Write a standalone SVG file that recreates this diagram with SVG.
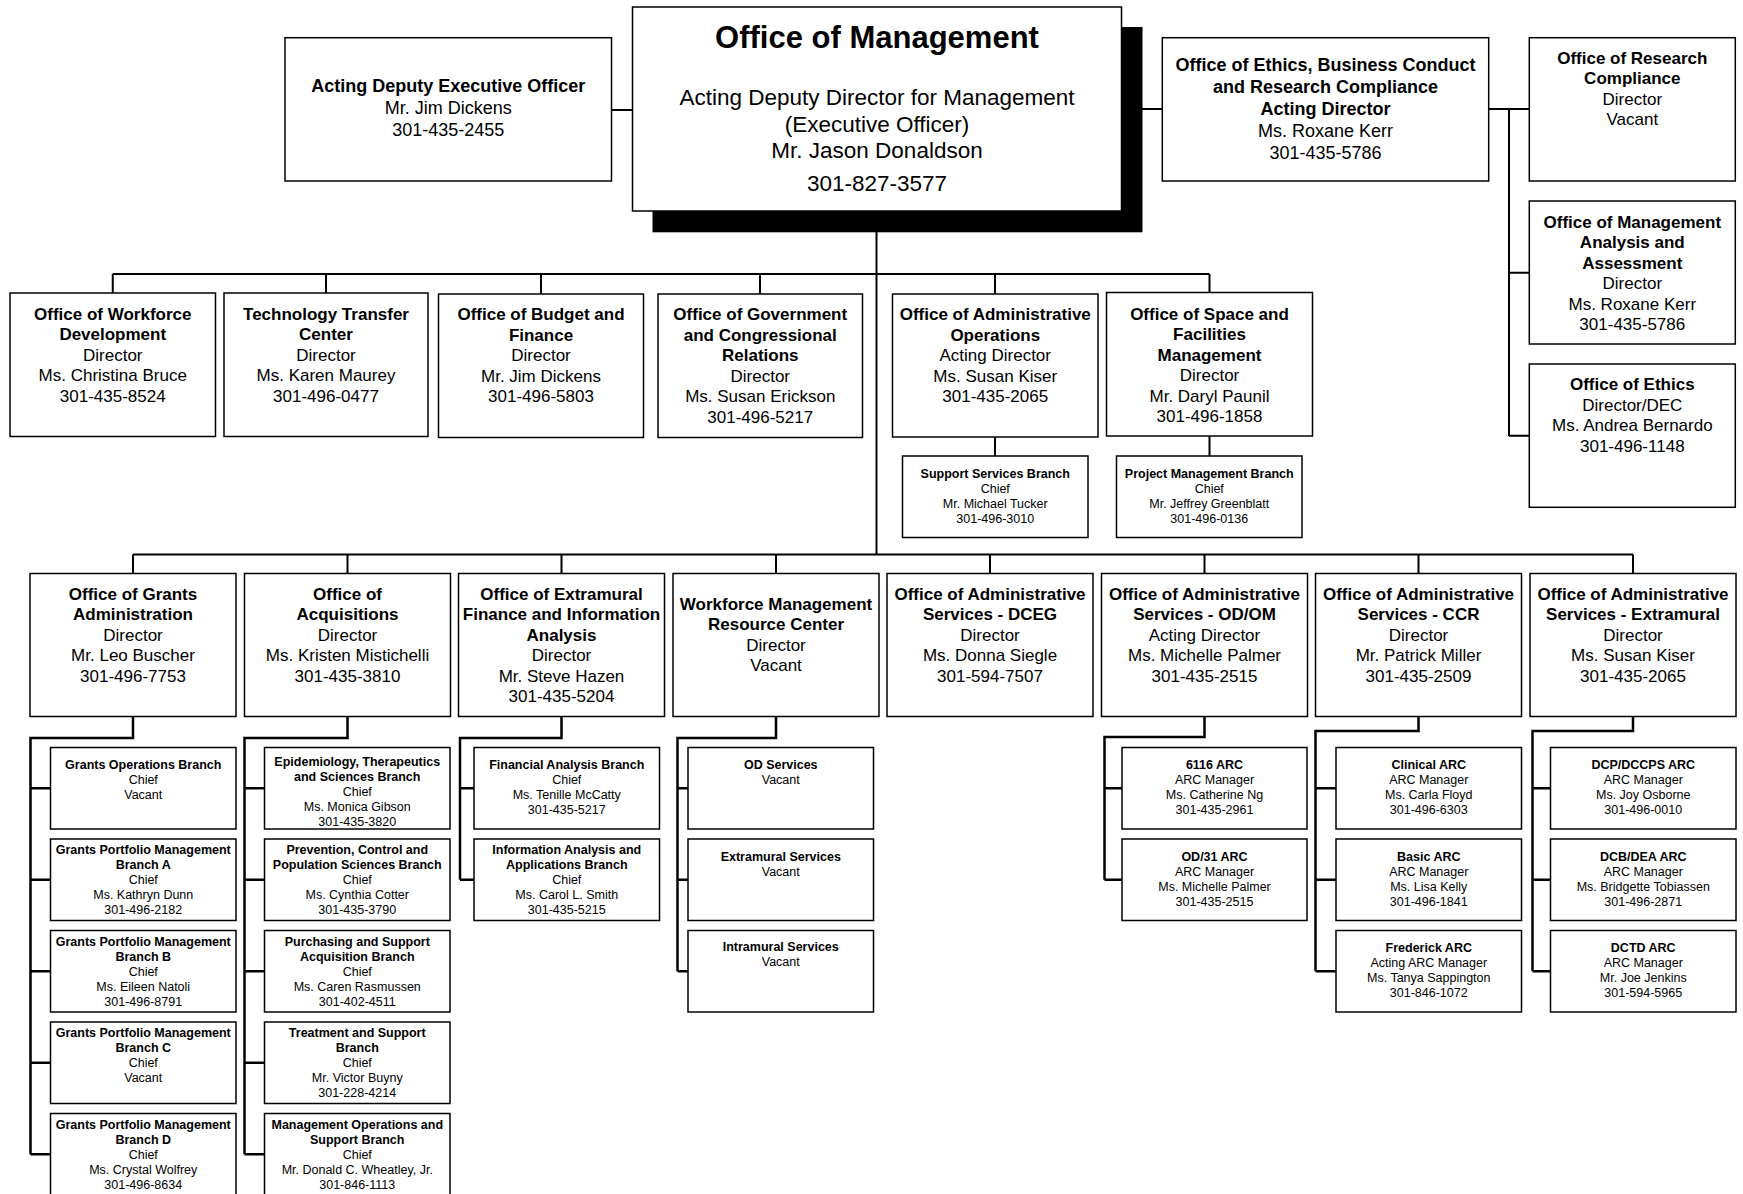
<svg xmlns="http://www.w3.org/2000/svg" width="1743" height="1194" viewBox="0 0 1743 1194">
<style>
text{font-family:"Liberation Sans",Arial,sans-serif;text-anchor:middle;fill:#000}
.t31{font-size:31px;font-weight:bold}
.t22{font-size:22.5px}
.t18{font-size:18px}
.t17{font-size:17px}
.t12{font-size:12.5px}
.b{font-weight:bold}
.box{fill:#fff;stroke:#000;stroke-width:1.5}
.shadow{fill:#000}
.conn{fill:none;stroke:#000;stroke-width:2}
.sub{fill:none;stroke:#000;stroke-width:2.5}
</style>
<rect width="1743" height="1194" fill="#fff"/>
<g id="connectors">
<path class="conn" d="M611.5 110H632.5M1121.5 109H1162.3M1488.7 109H1529.3M1509 109V436M1509 272.7H1529.3M1509 435.7H1529.3"/>
<path class="conn" d="M876.5 210V555"/>
<path class="conn" d="M112.75 274H1209.5M112.75 274V293M326 274V293M541 274V294M760 274V294M995 274V294M1209.5 274V292.5"/>
<path class="conn" d="M995 437V456M1209.5 436V456"/>
<path class="conn" d="M133 554.5H1633M133 554.5V573.5M347.5 554.5V573.5M561.5 554.5V573.5M776 554.5V573.5M990 554.5V573.5M1204.5 554.5V573.5M1418.5 554.5V573.5M1633 554.5V573.5"/>
<path class="sub" d="M133 716.5V738H30.5V1154.25M30.5 788.25H50.5M30.5 879.75H50.5M30.5 971.25H50.5M30.5 1062.75H50.5M30.5 1154.25H50.5"/>
<path class="sub" d="M347.5 716.5V738H244.5V1154.25M244.5 788.25H264.5M244.5 879.75H264.5M244.5 971.25H264.5M244.5 1062.75H264.5M244.5 1154.25H264.5"/>
<path class="sub" d="M561.5 716.5V738H460V879.75M460 788.25H474M460 879.75H474"/>
<path class="sub" d="M776 716.5V738H677.5V971.25M677.5 788.25H688M677.5 879.75H688M677.5 971.25H688"/>
<path class="sub" d="M1204.5 716.5V737H1104.5V879.75M1104.5 788.25H1122M1104.5 879.75H1122"/>
<path class="sub" d="M1418.5 716.5V731H1315.5V971.25M1315.5 788.25H1336M1315.5 879.75H1336M1315.5 971.25H1336"/>
<path class="sub" d="M1633 716.5V731H1532.5V971.25M1532.5 788.25H1550.5M1532.5 879.75H1550.5M1532.5 971.25H1550.5"/>
</g>

<g id="acting-deputy">
<rect class="box" x="285" y="37.7" width="326.5" height="143.3"/>
<text class="t18" x="448.3" y="92"><tspan class="b">Acting Deputy Executive Officer</tspan><tspan x="448.3" dy="22">Mr. Jim Dickens</tspan><tspan x="448.3" dy="22">301-435-2455</tspan></text>
</g>

<g id="office-of-management">
<rect class="shadow" x="652.5" y="27" width="490" height="205.3"/>
<rect class="box" x="632.5" y="7" width="489" height="204"/>
<text class="t31" x="877" y="48">Office of Management</text>
<text class="t22" x="877" y="105.3">Acting Deputy Director for Management<tspan x="877" dy="26.4">(Executive Officer)</tspan><tspan x="877" dy="26.6">Mr. Jason Donaldson</tspan><tspan x="877" dy="32.2">301-827-3577</tspan></text>
</g>

<g id="ethics-business-conduct">
<rect class="box" x="1162.3" y="37.7" width="326.4" height="143.3"/>
<text class="t18" x="1325.5" y="71"><tspan class="b">Office of Ethics, Business Conduct</tspan><tspan class="b" x="1325.5" dy="22">and Research Compliance</tspan><tspan class="b" x="1325.5" dy="22">Acting Director</tspan><tspan x="1325.5" dy="22">Ms. Roxane Kerr</tspan><tspan x="1325.5" dy="22">301-435-5786</tspan></text>
</g>

<g id="research-compliance">
<rect class="box" x="1529.3" y="37.7" width="206" height="143.3"/>
<text class="t17" x="1632.3" y="63.5"><tspan class="b">Office of Research</tspan><tspan class="b" x="1632.3" dy="20.5">Compliance</tspan><tspan x="1632.3" dy="20.5">Director</tspan><tspan x="1632.3" dy="20.5">Vacant</tspan></text>
</g>

<g id="management-analysis">
<rect class="box" x="1529.3" y="201" width="206" height="143"/>
<text class="t17" x="1632.3" y="227.5"><tspan class="b">Office of Management</tspan><tspan class="b" x="1632.3" dy="20.5">Analysis and</tspan><tspan class="b" x="1632.3" dy="20.5">Assessment</tspan><tspan x="1632.3" dy="20.5">Director</tspan><tspan x="1632.3" dy="20.5">Ms. Roxane Kerr</tspan><tspan x="1632.3" dy="20.5">301-435-5786</tspan></text>
</g>

<g id="office-of-ethics">
<rect class="box" x="1529.3" y="364" width="206" height="143.3"/>
<text class="t17" x="1632.3" y="390"><tspan class="b">Office of Ethics</tspan><tspan x="1632.3" dy="20.5">Director/DEC</tspan><tspan x="1632.3" dy="20.5">Ms. Andrea Bernardo</tspan><tspan x="1632.3" dy="20.5">301-496-1148</tspan></text>
</g>

<g id="workforce-development">
<rect class="box" x="10" y="293" width="205.5" height="143.5"/>
<text class="t17" x="112.75" y="319.5"><tspan class="b">Office of Workforce</tspan><tspan class="b" x="112.75" dy="20.5">Development</tspan><tspan x="112.75" dy="20.5">Director</tspan><tspan x="112.75" dy="20.5">Ms. Christina Bruce</tspan><tspan x="112.75" dy="20.5">301-435-8524</tspan></text>
</g>

<g id="technology-transfer">
<rect class="box" x="224" y="293" width="204" height="143.5"/>
<text class="t17" x="326" y="319.5"><tspan class="b">Technology Transfer</tspan><tspan class="b" x="326" dy="20.5">Center</tspan><tspan x="326" dy="20.5">Director</tspan><tspan x="326" dy="20.5">Ms. Karen Maurey</tspan><tspan x="326" dy="20.5">301-496-0477</tspan></text>
</g>

<g id="budget-finance">
<rect class="box" x="438.5" y="294" width="205" height="143.5"/>
<text class="t17" x="541" y="320"><tspan class="b">Office of Budget and</tspan><tspan class="b" x="541" dy="20.5">Finance</tspan><tspan x="541" dy="20.5">Director</tspan><tspan x="541" dy="20.5">Mr. Jim Dickens</tspan><tspan x="541" dy="20.5">301-496-5803</tspan></text>
</g>

<g id="government-relations">
<rect class="box" x="658" y="294" width="204.5" height="143.5"/>
<text class="t17" x="760.25" y="320"><tspan class="b">Office of Government</tspan><tspan class="b" x="760.25" dy="20.5">and Congressional</tspan><tspan class="b" x="760.25" dy="20.5">Relations</tspan><tspan x="760.25" dy="20.5">Director</tspan><tspan x="760.25" dy="20.5">Ms. Susan Erickson</tspan><tspan x="760.25" dy="20.5">301-496-5217</tspan></text>
</g>

<g id="administrative-operations">
<rect class="box" x="892.5" y="294" width="205.5" height="143"/>
<text class="t17" x="995.25" y="320"><tspan class="b">Office of Administrative</tspan><tspan class="b" x="995.25" dy="20.5">Operations</tspan><tspan x="995.25" dy="20.5">Acting Director</tspan><tspan x="995.25" dy="20.5">Ms. Susan Kiser</tspan><tspan x="995.25" dy="20.5">301-435-2065</tspan></text>
</g>

<g id="space-facilities">
<rect class="box" x="1106.5" y="292.5" width="206" height="143.5"/>
<text class="t17" x="1209.5" y="319.5"><tspan class="b">Office of Space and</tspan><tspan class="b" x="1209.5" dy="20.5">Facilities</tspan><tspan class="b" x="1209.5" dy="20.5">Management</tspan><tspan x="1209.5" dy="20.5">Director</tspan><tspan x="1209.5" dy="20.5">Mr. Daryl Paunil</tspan><tspan x="1209.5" dy="20.5">301-496-1858</tspan></text>
</g>

<g id="support-services-branch">
<rect class="box" x="902.5" y="456" width="185.5" height="81.5"/>
<text class="t12" x="995.25" y="478"><tspan class="b">Support Services Branch</tspan><tspan x="995.25" dy="15">Chief</tspan><tspan x="995.25" dy="15">Mr. Michael Tucker</tspan><tspan x="995.25" dy="15">301-496-3010</tspan></text>
</g>

<g id="project-management-branch">
<rect class="box" x="1116.5" y="456" width="185.5" height="81.5"/>
<text class="t12" x="1209.25" y="478"><tspan class="b">Project Management Branch</tspan><tspan x="1209.25" dy="15">Chief</tspan><tspan x="1209.25" dy="15">Mr. Jeffrey Greenblatt</tspan><tspan x="1209.25" dy="15">301-496-0136</tspan></text>
</g>

<g id="grants-administration">
<rect class="box" x="30" y="573.5" width="206" height="143"/>
<text class="t17" x="133" y="599.5"><tspan class="b">Office of Grants</tspan><tspan class="b" x="133" dy="20.5">Administration</tspan><tspan x="133" dy="20.5">Director</tspan><tspan x="133" dy="20.5">Mr. Leo Buscher</tspan><tspan x="133" dy="20.5">301-496-7753</tspan></text>
</g>

<g id="acquisitions">
<rect class="box" x="244.5" y="573.5" width="206" height="143"/>
<text class="t17" x="347.5" y="599.5"><tspan class="b">Office of</tspan><tspan class="b" x="347.5" dy="20.5">Acquisitions</tspan><tspan x="347.5" dy="20.5">Director</tspan><tspan x="347.5" dy="20.5">Ms. Kristen Mistichelli</tspan><tspan x="347.5" dy="20.5">301-435-3810</tspan></text>
</g>

<g id="extramural-finance">
<rect class="box" x="458.5" y="573.5" width="206" height="143"/>
<text class="t17" x="561.5" y="599.5"><tspan class="b">Office of Extramural</tspan><tspan class="b" x="561.5" dy="20.5">Finance and Information</tspan><tspan class="b" x="561.5" dy="20.5">Analysis</tspan><tspan x="561.5" dy="20.5">Director</tspan><tspan x="561.5" dy="20.5">Mr. Steve Hazen</tspan><tspan x="561.5" dy="20.5">301-435-5204</tspan></text>
</g>

<g id="workforce-management-resource-center">
<rect class="box" x="673" y="573.5" width="206" height="143"/>
<text class="t17" x="776" y="609.5"><tspan class="b">Workforce Management</tspan><tspan class="b" x="776" dy="20.5">Resource Center</tspan><tspan x="776" dy="20.5">Director</tspan><tspan x="776" dy="20.5">Vacant</tspan></text>
</g>

<g id="admin-services-dceg">
<rect class="box" x="887" y="573.5" width="206" height="143"/>
<text class="t17" x="990" y="599.5"><tspan class="b">Office of Administrative</tspan><tspan class="b" x="990" dy="20.5">Services - DCEG</tspan><tspan x="990" dy="20.5">Director</tspan><tspan x="990" dy="20.5">Ms. Donna Siegle</tspan><tspan x="990" dy="20.5">301-594-7507</tspan></text>
</g>

<g id="admin-services-odom">
<rect class="box" x="1101.5" y="573.5" width="206" height="143"/>
<text class="t17" x="1204.5" y="599.5"><tspan class="b">Office of Administrative</tspan><tspan class="b" x="1204.5" dy="20.5">Services - OD/OM</tspan><tspan x="1204.5" dy="20.5">Acting Director</tspan><tspan x="1204.5" dy="20.5">Ms. Michelle Palmer</tspan><tspan x="1204.5" dy="20.5">301-435-2515</tspan></text>
</g>

<g id="admin-services-ccr">
<rect class="box" x="1315.5" y="573.5" width="206" height="143"/>
<text class="t17" x="1418.5" y="599.5"><tspan class="b">Office of Administrative</tspan><tspan class="b" x="1418.5" dy="20.5">Services - CCR</tspan><tspan x="1418.5" dy="20.5">Director</tspan><tspan x="1418.5" dy="20.5">Mr. Patrick Miller</tspan><tspan x="1418.5" dy="20.5">301-435-2509</tspan></text>
</g>

<g id="admin-services-extramural">
<rect class="box" x="1530" y="573.5" width="206" height="143"/>
<text class="t17" x="1633" y="599.5"><tspan class="b">Office of Administrative</tspan><tspan class="b" x="1633" dy="20.5">Services - Extramural</tspan><tspan x="1633" dy="20.5">Director</tspan><tspan x="1633" dy="20.5">Ms. Susan Kiser</tspan><tspan x="1633" dy="20.5">301-435-2065</tspan></text>
</g>

<g id="grants-operations-branch">
<rect class="box" x="50.5" y="747.5" width="185.5" height="81.5"/>
<text class="t12" x="143.25" y="769.2"><tspan class="b">Grants Operations Branch</tspan><tspan x="143.25" dy="15">Chief</tspan><tspan x="143.25" dy="15">Vacant</tspan></text>
</g>
<g id="grants-portfolio-a">
<rect class="box" x="50.5" y="839" width="185.5" height="81.5"/>
<text class="t12" x="143.25" y="854"><tspan class="b">Grants Portfolio Management</tspan><tspan class="b" x="143.25" dy="15">Branch A</tspan><tspan x="143.25" dy="15">Chief</tspan><tspan x="143.25" dy="15">Ms. Kathryn Dunn</tspan><tspan x="143.25" dy="15">301-496-2182</tspan></text>
</g>
<g id="grants-portfolio-b">
<rect class="box" x="50.5" y="930.5" width="185.5" height="81.5"/>
<text class="t12" x="143.25" y="945.5"><tspan class="b">Grants Portfolio Management</tspan><tspan class="b" x="143.25" dy="15">Branch B</tspan><tspan x="143.25" dy="15">Chief</tspan><tspan x="143.25" dy="15">Ms. Eileen Natoli</tspan><tspan x="143.25" dy="15">301-496-8791</tspan></text>
</g>
<g id="grants-portfolio-c">
<rect class="box" x="50.5" y="1022" width="185.5" height="81.5"/>
<text class="t12" x="143.25" y="1037"><tspan class="b">Grants Portfolio Management</tspan><tspan class="b" x="143.25" dy="15">Branch C</tspan><tspan x="143.25" dy="15">Chief</tspan><tspan x="143.25" dy="15">Vacant</tspan></text>
</g>
<g id="grants-portfolio-d">
<rect class="box" x="50.5" y="1113.5" width="185.5" height="90"/>
<text class="t12" x="143.25" y="1128.5"><tspan class="b">Grants Portfolio Management</tspan><tspan class="b" x="143.25" dy="15">Branch D</tspan><tspan x="143.25" dy="15">Chief</tspan><tspan x="143.25" dy="15">Ms. Crystal Wolfrey</tspan><tspan x="143.25" dy="15">301-496-8634</tspan></text>
</g>

<g id="epidemiology-branch">
<rect class="box" x="264.5" y="747.5" width="185.5" height="81.5"/>
<text class="t12" x="357.25" y="766"><tspan class="b">Epidemiology, Therapeutics</tspan><tspan class="b" x="357.25" dy="15">and Sciences Branch</tspan><tspan x="357.25" dy="15">Chief</tspan><tspan x="357.25" dy="15">Ms. Monica Gibson</tspan><tspan x="357.25" dy="15">301-435-3820</tspan></text>
</g>
<g id="prevention-branch">
<rect class="box" x="264.5" y="839" width="185.5" height="81.5"/>
<text class="t12" x="357.25" y="854"><tspan class="b">Prevention, Control and</tspan><tspan class="b" x="357.25" dy="15">Population Sciences Branch</tspan><tspan x="357.25" dy="15">Chief</tspan><tspan x="357.25" dy="15">Ms. Cynthia Cotter</tspan><tspan x="357.25" dy="15">301-435-3790</tspan></text>
</g>
<g id="purchasing-branch">
<rect class="box" x="264.5" y="930.5" width="185.5" height="81.5"/>
<text class="t12" x="357.25" y="945.5"><tspan class="b">Purchasing and Support</tspan><tspan class="b" x="357.25" dy="15">Acquisition Branch</tspan><tspan x="357.25" dy="15">Chief</tspan><tspan x="357.25" dy="15">Ms. Caren Rasmussen</tspan><tspan x="357.25" dy="15">301-402-4511</tspan></text>
</g>
<g id="treatment-branch">
<rect class="box" x="264.5" y="1022" width="185.5" height="81.5"/>
<text class="t12" x="357.25" y="1037"><tspan class="b">Treatment and Support</tspan><tspan class="b" x="357.25" dy="15">Branch</tspan><tspan x="357.25" dy="15">Chief</tspan><tspan x="357.25" dy="15">Mr. Victor Buyny</tspan><tspan x="357.25" dy="15">301-228-4214</tspan></text>
</g>
<g id="management-operations-branch">
<rect class="box" x="264.5" y="1113.5" width="185.5" height="90"/>
<text class="t12" x="357.25" y="1128.5"><tspan class="b">Management Operations and</tspan><tspan class="b" x="357.25" dy="15">Support Branch</tspan><tspan x="357.25" dy="15">Chief</tspan><tspan x="357.25" dy="15">Mr. Donald C. Wheatley, Jr.</tspan><tspan x="357.25" dy="15">301-846-1113</tspan></text>
</g>

<g id="financial-analysis-branch">
<rect class="box" x="474" y="747.5" width="185.5" height="81.5"/>
<text class="t12" x="566.75" y="769.2"><tspan class="b">Financial Analysis Branch</tspan><tspan x="566.75" dy="15">Chief</tspan><tspan x="566.75" dy="15">Ms. Tenille McCatty</tspan><tspan x="566.75" dy="15">301-435-5217</tspan></text>
</g>
<g id="information-analysis-branch">
<rect class="box" x="474" y="839" width="185.5" height="81.5"/>
<text class="t12" x="566.75" y="853.5"><tspan class="b">Information Analysis and</tspan><tspan class="b" x="566.75" dy="15">Applications Branch</tspan><tspan x="566.75" dy="15">Chief</tspan><tspan x="566.75" dy="15">Ms. Carol L. Smith</tspan><tspan x="566.75" dy="15">301-435-5215</tspan></text>
</g>

<g id="od-services">
<rect class="box" x="688" y="747.5" width="185.5" height="81.5"/>
<text class="t12" x="780.75" y="769.2"><tspan class="b">OD Services</tspan><tspan x="780.75" dy="15">Vacant</tspan></text>
</g>
<g id="extramural-services">
<rect class="box" x="688" y="839" width="185.5" height="81.5"/>
<text class="t12" x="780.75" y="860.7"><tspan class="b">Extramural Services</tspan><tspan x="780.75" dy="15">Vacant</tspan></text>
</g>
<g id="intramural-services">
<rect class="box" x="688" y="930.5" width="185.5" height="81.5"/>
<text class="t12" x="780.75" y="951"><tspan class="b">Intramural Services</tspan><tspan x="780.75" dy="15">Vacant</tspan></text>
</g>

<g id="arc-6116">
<rect class="box" x="1122" y="747.5" width="185" height="81.5"/>
<text class="t12" x="1214.5" y="769.2"><tspan class="b">6116 ARC</tspan><tspan x="1214.5" dy="15">ARC Manager</tspan><tspan x="1214.5" dy="15">Ms. Catherine Ng</tspan><tspan x="1214.5" dy="15">301-435-2961</tspan></text>
</g>
<g id="arc-od31">
<rect class="box" x="1122" y="839" width="185" height="81.5"/>
<text class="t12" x="1214.5" y="860.7"><tspan class="b">OD/31 ARC</tspan><tspan x="1214.5" dy="15">ARC Manager</tspan><tspan x="1214.5" dy="15">Ms. Michelle Palmer</tspan><tspan x="1214.5" dy="15">301-435-2515</tspan></text>
</g>

<g id="arc-clinical">
<rect class="box" x="1336" y="747.5" width="185.5" height="81.5"/>
<text class="t12" x="1428.75" y="769.2"><tspan class="b">Clinical ARC</tspan><tspan x="1428.75" dy="15">ARC Manager</tspan><tspan x="1428.75" dy="15">Ms. Carla Floyd</tspan><tspan x="1428.75" dy="15">301-496-6303</tspan></text>
</g>
<g id="arc-basic">
<rect class="box" x="1336" y="839" width="185.5" height="81.5"/>
<text class="t12" x="1428.75" y="860.7"><tspan class="b">Basic ARC</tspan><tspan x="1428.75" dy="15">ARC Manager</tspan><tspan x="1428.75" dy="15">Ms. Lisa Kelly</tspan><tspan x="1428.75" dy="15">301-496-1841</tspan></text>
</g>
<g id="arc-frederick">
<rect class="box" x="1336" y="930.5" width="185.5" height="81.5"/>
<text class="t12" x="1428.75" y="952.2"><tspan class="b">Frederick ARC</tspan><tspan x="1428.75" dy="15">Acting ARC Manager</tspan><tspan x="1428.75" dy="15">Ms. Tanya Sappington</tspan><tspan x="1428.75" dy="15">301-846-1072</tspan></text>
</g>

<g id="arc-dcp-dccps">
<rect class="box" x="1550.5" y="747.5" width="185.5" height="81.5"/>
<text class="t12" x="1643.25" y="769.2"><tspan class="b">DCP/DCCPS ARC</tspan><tspan x="1643.25" dy="15">ARC Manager</tspan><tspan x="1643.25" dy="15">Ms. Joy Osborne</tspan><tspan x="1643.25" dy="15">301-496-0010</tspan></text>
</g>
<g id="arc-dcb-dea">
<rect class="box" x="1550.5" y="839" width="185.5" height="81.5"/>
<text class="t12" x="1643.25" y="860.7"><tspan class="b">DCB/DEA ARC</tspan><tspan x="1643.25" dy="15">ARC Manager</tspan><tspan x="1643.25" dy="15">Ms. Bridgette Tobiassen</tspan><tspan x="1643.25" dy="15">301-496-2871</tspan></text>
</g>
<g id="arc-dctd">
<rect class="box" x="1550.5" y="930.5" width="185.5" height="81.5"/>
<text class="t12" x="1643.25" y="952.2"><tspan class="b">DCTD ARC</tspan><tspan x="1643.25" dy="15">ARC Manager</tspan><tspan x="1643.25" dy="15">Mr. Joe Jenkins</tspan><tspan x="1643.25" dy="15">301-594-5965</tspan></text>
</g>
</svg>
